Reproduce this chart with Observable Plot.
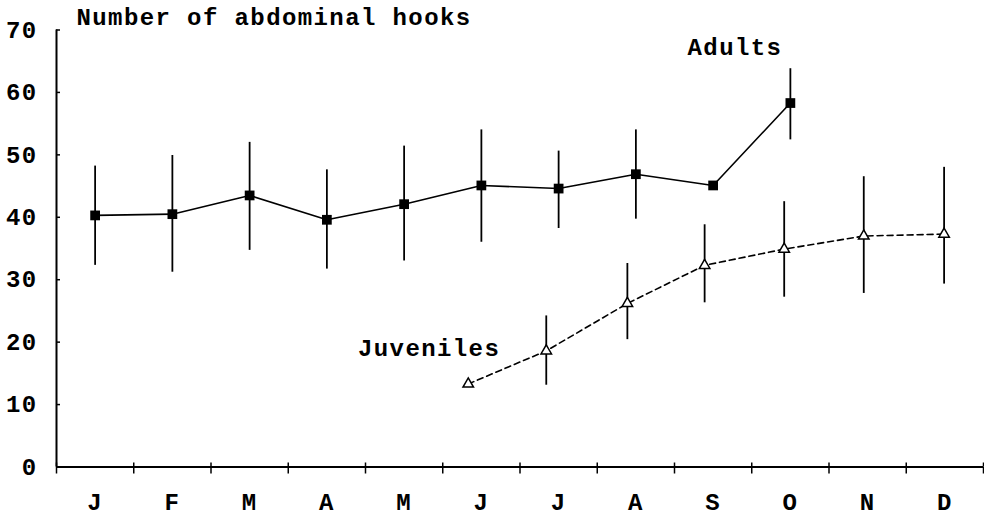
<!DOCTYPE html>
<html>
<head>
<meta charset="utf-8">
<script src="https://cdn.jsdelivr.net/npm/d3@7"></script>
<script src="https://cdn.jsdelivr.net/npm/@observablehq/plot@0.6"></script>
<style>
  html, body { margin: 0; padding: 0; background: #fff; }
</style>
</head>
<body>
<div id="chart"></div>
<script>
// Month letters along the x axis (one band per month, axis runs 0..12)
const months = ["J", "F", "M", "A", "M", "J", "J", "A", "S", "O", "N", "D"];
const yTicks = [0, 10, 20, 30, 40, 50, 60, 70];

// Adults: sampled mid-month, January to October
const adultPos  = [0.5, 1.5, 2.5, 3.5, 4.5, 5.5, 6.5, 7.5, 8.5, 9.5];
const adultMean = [40.3, 40.5, 43.5, 39.6, 42.1, 45.1, 44.6, 46.9, 45.1, 58.3];
const adultLow  = [32.3, 31.2, 34.7, 31.7, 33.0, 36.0, 38.2, 39.7, null, 52.4];
const adultHigh = [48.2, 49.9, 52.0, 47.6, 51.4, 54.0, 50.6, 54.0, null, 63.8];

// Juveniles: sampled June to December (sampling time in months)
const juvPos  = [5.33, 6.34, 7.39, 8.39, 9.42, 10.45, 11.49];
const juvMean = [13.3, 18.6, 26.2, 32.3, 34.9, 37.0, 37.3];
const juvLow  = [null, 13.1, 20.4, 26.3, 27.2, 27.8, 29.3];
const juvHigh = [null, 24.2, 32.6, 38.8, 42.5, 46.5, 48.0];

const title = "Number of abdominal hooks";

const adults = adultPos.map((x, i) => ({x, mean: adultMean[i], low: adultLow[i], high: adultHigh[i]}));
const juveniles = juvPos.map((x, i) => ({x, mean: juvMean[i], low: juvLow[i], high: juvHigh[i]}));
const monthEdges = d3.range(0, 13);
const monthCenters = months.map((_, i) => i + 0.5);

const chart = Plot.plot({
  width: 984,
  height: 517,
  marginLeft: 56,
  marginRight: 1,
  marginTop: 29.5,
  marginBottom: 50.5,
  x: {domain: [0, 12]},
  y: {domain: [0, 70]},
  style: {
    fontFamily: "'Liberation Mono', 'DejaVu Sans Mono', monospace",
    fontWeight: "bold",
    fontSize: "24px",
    letterSpacing: "1.4px",
    background: "#fff",
    color: "#000"
  },
  marks: [
    // axes: labels, inward ticks, outward ticks
    Plot.axisY({ticks: yTicks, tickSize: 0, tickPadding: 19, label: null}),
    Plot.axisY({ticks: yTicks, tickSize: -4, tickFormat: () => "", label: null, strokeWidth: 1.5}),
    Plot.axisX({ticks: monthEdges, tickSize: 7, tickFormat: () => "", label: null, strokeWidth: 1.5}),
    Plot.axisX({ticks: monthEdges, tickSize: -4, tickFormat: () => "", label: null, strokeWidth: 1.5}),
    Plot.axisX({ticks: monthCenters, tickSize: 0, tickPadding: 26, tickFormat: d => months[Math.floor(d)], label: null}),
    Plot.ruleY([0], {strokeWidth: 2}),
    Plot.ruleX([0], {strokeWidth: 2}),

    // error bars
    Plot.ruleX(adults.filter(d => d.low != null), {x: "x", y1: "low", y2: "high", strokeWidth: 1.8}),
    Plot.ruleX(juveniles.filter(d => d.low != null), {x: "x", y1: "low", y2: "high", strokeWidth: 1.8}),

    // series lines
    Plot.line(adults, {x: "x", y: "mean", strokeWidth: 1.6}),
    Plot.line(juveniles, {x: "x", y: "mean", strokeWidth: 1.6, strokeDasharray: "6,4"}),

    // markers
    Plot.dot(adults, {x: "x", y: "mean", symbol: "square", r: 5.5, fill: "#000", stroke: "none"}),
    Plot.dot(juveniles, {x: "x", y: "mean", symbol: "triangle", r: 3.9, fill: "#fff", stroke: "#000", strokeWidth: 1.5}),

    // series labels
    Plot.text([adults[adults.length - 1]], {x: "x", y: "mean", text: () => "Adults", textAnchor: "end", dx: -8, dy: -55.4}),
    Plot.text([juveniles[0]], {x: "x", y: "mean", text: () => "Juveniles", textAnchor: "end", dx: 32, dy: -36}),

    // title
    Plot.text([title], {frameAnchor: "top-left", textAnchor: "start", lineAnchor: "middle", dx: 20, dy: -12.2})
  ]
});

document.getElementById("chart").appendChild(chart);
</script>
</body>
</html>
